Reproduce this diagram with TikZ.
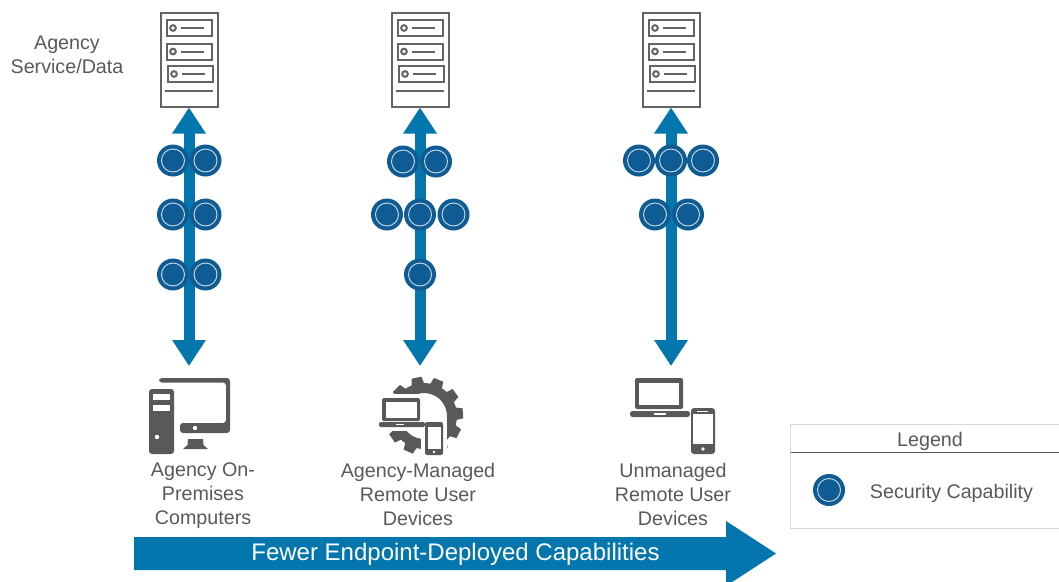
\documentclass[tikz,border=0pt]{standalone}
\usepackage{fontspec}
\setmainfont{Liberation Sans}
\usetikzlibrary{arrows.meta}
\definecolor{txtgray}{HTML}{595959}
\definecolor{icongray}{HTML}{58595B}
\definecolor{srvgray}{HTML}{636466}
\definecolor{flowblue}{HTML}{0476AE}
\definecolor{capblue}{HTML}{0F5C94}
\tikzset{
  x=1pt,y=-1pt,
  lbl/.style={font=\fontsize{19.7}{24}\selectfont,text=txtgray,align=center,inner sep=0pt},
  capab/.style={circle,fill=capblue,draw=none,minimum size=32pt,inner sep=0pt,
    path picture={\draw[white!78!capblue,line width=0.9pt] (path picture bounding box.center) circle (11.5pt);}},
  flow/.style={draw=flowblue,line width=11pt,{Triangle[length=26pt,width=32pt]}-{Triangle[length=26pt,width=32pt]}},
  srv/.style={rectangle,draw=srvgray,fill=white,line width=2pt,minimum width=57pt,minimum height=94pt,inner sep=0pt},
  srvpart/.style={draw=srvgray,line width=2pt},
  pics/srvinner/.style={code={
    \foreach \yy/\dx in {28/0,51.5/0,74/1}{
      \draw[srvpart] (-22.5+\dx,\yy-8) rectangle (22.5+\dx,\yy+8);
      \draw[srvpart] (-16+\dx,\yy) circle (2.8pt);
      \draw[srvpart] (-8+\dx,\yy) -- (15+\dx,\yy);
    }
    \draw[srvpart] (-24,90.5) -- (24,90.5);
  }},
}
\begin{document}
\begin{tikzpicture}
\useasboundingbox (0,0) rectangle (1059,581);
\clip (0,0) rectangle (1059,581);
% servers
\node[srv] (srv1) at (189,59.5) {};
\node[srv] (srv2) at (420,59.5) {};
\node[srv] (srv3) at (671,59.5) {};
\pic at (189,0) {srvinner};
\pic at (420,0) {srvinner};
\pic at (671,0) {srvinner};
% device anchors
\coordinate (dev1) at (189,366);
\coordinate (dev2) at (420,366);
\coordinate (dev3) at (671,366);
% flows
\draw[flow] (srv1.south) -- (dev1);
\draw[flow] (srv2.south) -- (dev2);
\draw[flow] (srv3.south) -- (dev3);
% capabilities
\node[capab] (a1) at (173,160.5) {};
\node[capab] (a2) at (205.5,160.5) {};
\node[capab] (a3) at (173,214.5) {};
\node[capab] (a4) at (205.5,214.5) {};
\node[capab] (a5) at (173,274.5) {};
\node[capab] (a6) at (205.5,274.5) {};
\node[capab] (b1) at (403,161.5) {};
\node[capab] (b2) at (436,161.5) {};
\node[capab] (b3) at (387,214.5) {};
\node[capab] (b4) at (420,214.5) {};
\node[capab] (b5) at (453.5,214.5) {};
\node[capab] (b6) at (420,274.5) {};
\node[capab] (c1) at (639,160.5) {};
\node[capab] (c2) at (671,160.5) {};
\node[capab] (c3) at (703,160.5) {};
\node[capab] (c4) at (655,214.5) {};
\node[capab] (c5) at (688,214.5) {};
% computer icon
\fill[icongray,rounded corners=3pt] (149,389) rectangle (174,454);
\fill[white] (153,394) rectangle (170,400);
\fill[white] (153,405) rectangle (170,411);
\fill[white] (157,437) circle (2.2pt);
\fill[icongray,rounded corners=3pt] (159,382.5) -- (159,378) -- (230,378) -- (230,433) -- (180,433) -- (180,423) -- (226,423) -- (226,382.5) -- cycle;
\fill[white] (195,428) circle (2.2pt);
\fill[icongray] (188,439) -- (203,439) -- (203.5,445) -- (208,449) -- (183,449) -- (187.5,445) -- cycle;
% gear icon
\begin{scope}[shift={(424,416)},y=1pt]
  \draw[icongray,line width=10pt] (142:28) arc[start angle=142,end angle=-80,radius=28pt];
  \draw[icongray,line width=10pt] (207:28) arc[start angle=207,end angle=267,radius=28pt];
  \foreach \a in {135,101,68,36,4,-27,-60,215,246}{
    \fill[icongray,rotate=\a] (28,-7) -- (39,-5) -- (39,5) -- (28,7) -- cycle;
  }
\end{scope}
% managed laptop and phone
\fill[white] (376,394) rectangle (428,431);
\fill[white] (421,418) rectangle (447,458);
\fill[icongray,rounded corners=1.5pt] (382,398) rectangle (420,421);
\fill[white] (386,402) rectangle (417,418);
\fill[icongray,rounded corners=2pt] (379,422) rectangle (425,427);
\fill[white] (396,423.5) rectangle (404,425);
\fill[icongray,rounded corners=2pt] (425,422) rectangle (443,455);
\fill[white] (428,426.5) rectangle (441,449);
\fill[white] (434,452) circle (1.3pt);
% unmanaged laptop and phone
\fill[icongray,rounded corners=2pt] (635,378) rectangle (683,409);
\fill[white] (639,383) rectangle (679,405);
\fill[icongray,rounded corners=2.5pt] (630,411) rectangle (690,417);
\fill[white] (654,413) rectangle (666,415);
\fill[icongray,rounded corners=3pt] (691,408) rectangle (715,454);
\fill[white] (693,414) rectangle (713,444);
\fill[white] (697,410.5) rectangle (708,412);
\fill[white] (703,449) circle (1.8pt);
% labels
\node[lbl] (lsrv) at (67,54.5) {Agency\\Service/Data};
\node[lbl] (l1) at (203,495.5) {Agency On-\\Premises\\Computers};
\node[lbl] (l2) at (418,494.5) {Agency-Managed\\Remote User\\Devices};
\node[lbl] (l3) at (673,494.5) {Unmanaged\\Remote User\\Devices};
% bottom arrow
\fill[flowblue] (134,537) -- (726,537) -- (726,521) -- (776,553.5) -- (726,586) -- (726,570) -- (134,570) -- cycle;
\node[font=\fontsize{24}{28}\selectfont,text=white,inner sep=0pt] (fewer) at (455.5,554) {Fewer Endpoint-Deployed Capabilities};
% legend
\draw[draw=black!15,line width=1pt,fill=white] (1070,424) -- (790.5,424) -- (790.5,528) -- (1070,528);
\draw[draw=txtgray,line width=0.8pt] (790.5,452) -- (1059,452);
\node[lbl] (lleg) at (930,441.5) {Legend};
\node[capab] (lcap) at (829,490) {};
\node[lbl] (lsec) at (951.5,493) {Security Capability};
\end{tikzpicture}
\end{document}
